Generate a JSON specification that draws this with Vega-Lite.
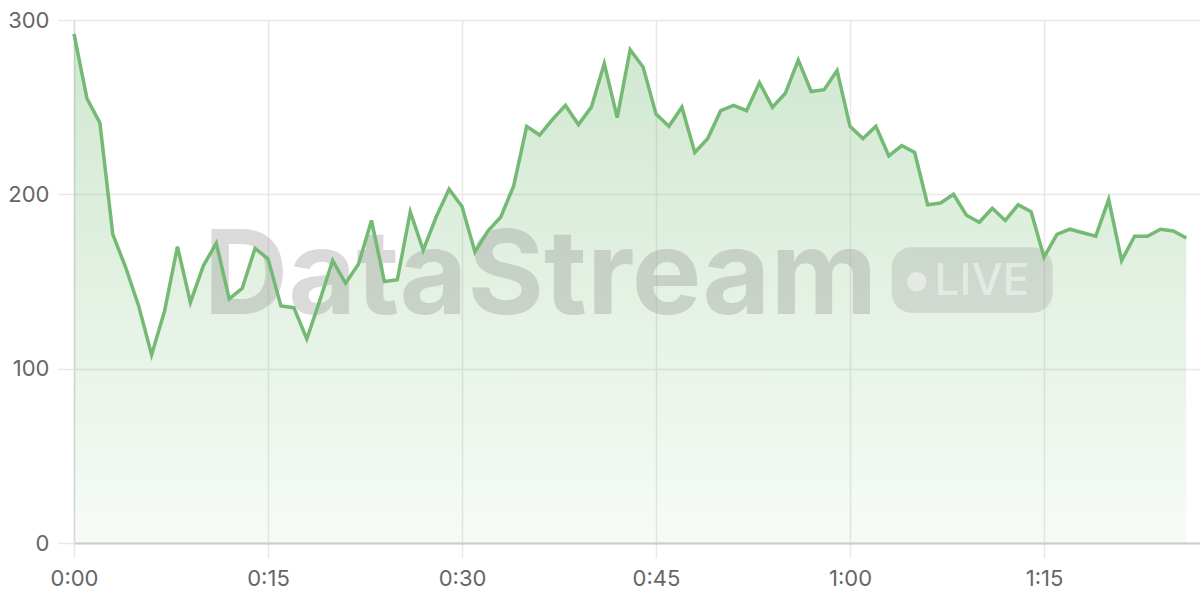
{
  "$schema": "https://vega.github.io/schema/vega-lite/v6.json",
  "width": 1126,
  "height": 523,
  "autosize": "none",
  "padding": {"left": 74, "top": 20, "right": 0, "bottom": 57},
  "background": "white",
  "config": {
    "view": {"stroke": null},
    "axis": {
      "labelFont": "Inter",
      "labelFontSize": 22,
      "labelColor": "#666666",
      "labelFlush": false,
      "labelOverlap": false,
      "gridColor": "#e8e8e8",
      "gridWidth": 1.5,
      "tickColor": "#e8e8e8",
      "tickWidth": 1.5,
      "title": null
    }
  },
  "datasets": {
    "series": [
      {"t": 0, "v": 292}, {"t": 1, "v": 255}, {"t": 2, "v": 241}, {"t": 3, "v": 177},
      {"t": 4, "v": 158}, {"t": 5, "v": 136}, {"t": 6, "v": 108}, {"t": 7, "v": 133},
      {"t": 8, "v": 170}, {"t": 9, "v": 138}, {"t": 10, "v": 159}, {"t": 11, "v": 172},
      {"t": 12, "v": 140}, {"t": 13, "v": 146}, {"t": 14, "v": 169}, {"t": 15, "v": 163},
      {"t": 16, "v": 136}, {"t": 17, "v": 135}, {"t": 18, "v": 117}, {"t": 19, "v": 139},
      {"t": 20, "v": 162}, {"t": 21, "v": 149}, {"t": 22, "v": 160}, {"t": 23, "v": 185},
      {"t": 24, "v": 150}, {"t": 25, "v": 151}, {"t": 26, "v": 190}, {"t": 27, "v": 168},
      {"t": 28, "v": 187}, {"t": 29, "v": 203}, {"t": 30, "v": 193}, {"t": 31, "v": 167},
      {"t": 32, "v": 179}, {"t": 33, "v": 187}, {"t": 34, "v": 205}, {"t": 35, "v": 239},
      {"t": 36, "v": 234}, {"t": 37, "v": 243}, {"t": 38, "v": 251}, {"t": 39, "v": 240},
      {"t": 40, "v": 250}, {"t": 41, "v": 275}, {"t": 42, "v": 244}, {"t": 43, "v": 283},
      {"t": 44, "v": 273}, {"t": 45, "v": 246}, {"t": 46, "v": 239}, {"t": 47, "v": 250},
      {"t": 48, "v": 224}, {"t": 49, "v": 232}, {"t": 50, "v": 248}, {"t": 51, "v": 251},
      {"t": 52, "v": 248}, {"t": 53, "v": 264}, {"t": 54, "v": 250}, {"t": 55, "v": 258},
      {"t": 56, "v": 277}, {"t": 57, "v": 259}, {"t": 58, "v": 260}, {"t": 59, "v": 271},
      {"t": 60, "v": 239}, {"t": 61, "v": 232}, {"t": 62, "v": 239}, {"t": 63, "v": 222},
      {"t": 64, "v": 228}, {"t": 65, "v": 224}, {"t": 66, "v": 194}, {"t": 67, "v": 195},
      {"t": 68, "v": 200}, {"t": 69, "v": 188}, {"t": 70, "v": 184}, {"t": 71, "v": 192},
      {"t": 72, "v": 185}, {"t": 73, "v": 194}, {"t": 74, "v": 190}, {"t": 75, "v": 164},
      {"t": 76, "v": 177}, {"t": 77, "v": 180}, {"t": 78, "v": 178}, {"t": 79, "v": 176},
      {"t": 80, "v": 197}, {"t": 81, "v": 162}, {"t": 82, "v": 176}, {"t": 83, "v": 176},
      {"t": 84, "v": 180}, {"t": 85, "v": 179}, {"t": 86, "v": 175}
    ],
    "watermark": [{"label": "DataStream"}],
    "badge": [{"label": "LIVE"}]
  },
  "layer": [
    {
      "data": {"name": "series"},
      "mark": {
        "type": "area",
        "fill": {
          "gradient": "linear",
          "x1": 0, "y1": 0, "x2": 0, "y2": 1,
          "stops": [
            {"offset": 0, "color": "rgba(116,186,116,0.34)"},
            {"offset": 1, "color": "rgba(116,186,116,0.06)"}
          ]
        }
      },
      "encoding": {
        "x": {
          "field": "t",
          "type": "quantitative",
          "scale": {"domain": [0, 87.06], "nice": false, "zero": false},
          "axis": {
            "values": [0, 15, 30, 45, 60, 75],
            "labelExpr": "floor(datum.value / 60) + ':' + (datum.value % 60 < 10 ? '0' : '') + (datum.value % 60)",
            "domainColor": "#cccccc",
            "domainWidth": 2,
            "tickSize": 15,
            "labelPadding": 10
          }
        },
        "y": {
          "field": "v",
          "type": "quantitative",
          "scale": {"domain": [0, 300], "nice": false},
          "axis": {
            "values": [0, 100, 200, 300],
            "domainColor": "#dddddd",
            "domainWidth": 1.5,
            "tickSize": 16,
            "labelPadding": 9
          }
        }
      }
    },
    {
      "data": {"name": "watermark"},
      "mark": {
        "type": "text",
        "font": "Inter",
        "fontWeight": 700,
        "fontSize": 117,
        "align": "center",
        "baseline": "alphabetic",
        "fill": "#999999",
        "fillOpacity": 0.36
      },
      "encoding": {
        "text": {"field": "label", "type": "nominal"},
        "x": {"datum": 36.07, "type": "quantitative"},
        "y": {"datum": 131.4, "type": "quantitative"}
      }
    },
    {
      "data": {"name": "badge"},
      "mark": {
        "type": "rect",
        "cornerRadius": 20,
        "fill": "#999999",
        "fillOpacity": 0.28
      },
      "encoding": {
        "x": {"datum": 63.23, "type": "quantitative"},
        "x2": {"datum": 75.67},
        "y": {"datum": 169.6, "type": "quantitative"},
        "y2": {"datum": 132.1}
      }
    },
    {
      "data": {"name": "badge"},
      "mark": {
        "type": "circle",
        "size": 380,
        "fill": "#ffffff",
        "fillOpacity": 0.45,
        "opacity": 1
      },
      "encoding": {
        "x": {"datum": 65.16, "type": "quantitative"},
        "y": {"datum": 149.9, "type": "quantitative"}
      }
    },
    {
      "data": {"name": "badge"},
      "mark": {
        "type": "text",
        "font": "Inter",
        "fontWeight": 500,
        "fontSize": 44,
        "align": "left",
        "baseline": "alphabetic",
        "fill": "#ffffff",
        "fillOpacity": 0.45
      },
      "encoding": {
        "text": {"field": "label", "type": "nominal"},
        "x": {"datum": 66.54, "type": "quantitative"},
        "y": {"datum": 142.3, "type": "quantitative"}
      }
    },
    {
      "data": {"name": "series"},
      "mark": {
        "type": "line",
        "color": "#74ba74",
        "strokeWidth": 3.5
      },
      "encoding": {
        "x": {"field": "t", "type": "quantitative"},
        "y": {"field": "v", "type": "quantitative"}
      }
    }
  ]
}
